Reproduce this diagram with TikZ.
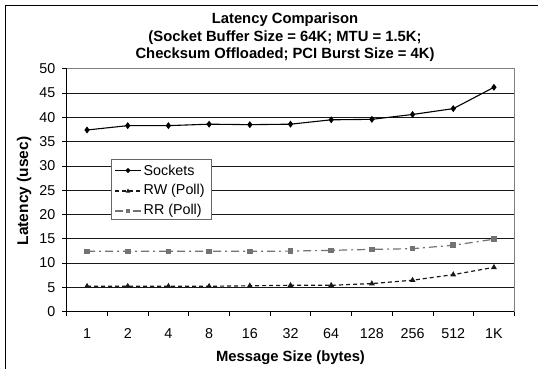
\documentclass[tikz,border=0pt]{standalone}
\usepackage{fontspec}
\setmainfont{Liberation Sans}
\usetikzlibrary{plotmarks}
\begin{document}
\begin{tikzpicture}[x=1pt,y=-1pt,
  lbl/.style={font=\fontsize{14.3}{17}\selectfont, inner sep=0pt},
  ttl/.style={font=\bfseries\fontsize{14.8}{17}\selectfont, inner sep=0pt},
  gridline/.style={black!90, line width=0.8pt},
  tickline/.style={black, line width=0.8pt},
  sockline/.style={black, line width=1.1pt, mark=diamond*, mark size=2.6pt, mark options={solid, fill=black}},
  rwline/.style={black!90, line width=1.2pt, dash pattern=on 4pt off 3pt, mark=triangle*, mark size=2.2pt, mark options={solid, fill=black!90}},
  rrline/.style={black!55, line width=1.2pt, dash pattern=on 8pt off 4pt on 2pt off 4pt, mark=square*, mark size=2.2pt, mark options={solid, fill=black!55}}]
\useasboundingbox (0,0) rectangle (538,368);
\clip (0,0) rectangle (538,368);
\fill[white] (0,0) rectangle (538,368);
% outer chart frame (cropped at right and bottom)
\draw[line width=1pt] (5.5,400) -- (5.5,5.5) -- (560,5.5);
% title
\node[ttl] (t1) at (285,20) {Latency Comparison};
\node[ttl] (t2) at (285,37.3) {(Socket Buffer Size = 64K; MTU = 1.5K;};
\node[ttl] (t3) at (285,54.6) {Checksum Offloaded; PCI Burst Size = 4K)};
% plot area
\draw[black!50, line width=0.8pt] (66.7,68.8) -- (514.3,68.8) -- (514.3,311.5);
\foreach \v in {5,10,...,45} {
  \draw[gridline] (66.7,311.5-\v*4.853) -- (514.3,311.5-\v*4.853);
}
\foreach \v in {0,5,...,50} {
  \draw[tickline] (62,311.5-\v*4.853) -- (66.7,311.5-\v*4.853);
  \node[lbl, anchor=east] (y\v) at (55.5,311.5-\v*4.853) {\v};
}
\draw[tickline] (66.7,68.8) -- (66.7,311.5) -- (514.3,311.5);
\foreach \k in {0,...,11} {
  \draw[tickline] (66.7+\k*40.69,311.5) -- (66.7+\k*40.69,316);
}
\foreach \lab [count=\i from 0] in {1,2,4,8,16,32,64,128,256,512,1K} {
  \node[lbl] (x\i) at (66.7+\i*40.69+20.35,333.5) {\lab};
}
\node[ttl] (xt) at (290.5,358) {Message Size (bytes)};
\node[ttl, rotate=90, font=\bfseries\fontsize{15.5}{17}\selectfont] (yt) at (24,191) {Latency (usec)};
% data
\begin{scope}[shift={(66.7,311.5)}, x=40.69pt, y=4.853pt]
  \draw[rrline] plot coordinates {(0.5,12.4) (1.5,12.4) (2.5,12.4) (3.5,12.4) (4.5,12.4) (5.5,12.45) (6.5,12.6) (7.5,12.8) (8.5,12.95) (9.5,13.65) (10.5,14.9)};
  \draw[rwline] plot coordinates {(0.5,5.2) (1.5,5.2) (2.5,5.2) (3.5,5.2) (4.5,5.3) (5.5,5.4) (6.5,5.4) (7.5,5.75) (8.5,6.45) (9.5,7.6) (10.5,9.1)};
  \draw[sockline] plot coordinates {(0.5,37.4) (1.5,38.3) (2.5,38.3) (3.5,38.6) (4.5,38.5) (5.5,38.6) (6.5,39.5) (7.5,39.6) (8.5,40.6) (9.5,41.8) (10.5,46.2)};
\end{scope}
% legend
\draw[black!60, fill=white, line width=0.8pt] (111,159.5) rectangle (211.5,219.5);
\coordinate (l1a) at (115,170.5); \coordinate (l1b) at (141,170.5);
\coordinate (l2a) at (115,191); \coordinate (l2b) at (141,191);
\coordinate (l3a) at (115,211); \coordinate (l3b) at (141,211);
\draw[sockline, mark=none] (l1a) -- (l1b);
\draw[rwline, mark=none] (l2a) -- (l2b);
\draw[rrline, mark=none] (l3a) -- (l3b);
\fill[black!90] (128,188.5) -- (130.2,192.5) -- (125.8,192.5) -- cycle;
\fill[black!55] (125.8,208.8) rectangle (130.2,213.2);
\fill[black] (128,167.9) -- (130.6,170.5) -- (128,173.1) -- (125.4,170.5) -- cycle;
\node[lbl, anchor=west] (s1) at (143.5,170.5) {Sockets};
\node[lbl, anchor=west] (s2) at (143.5,191) {RW (Poll)};
\node[lbl, anchor=west] (s3) at (143.5,211) {RR (Poll)};
\end{tikzpicture}
\end{document}
